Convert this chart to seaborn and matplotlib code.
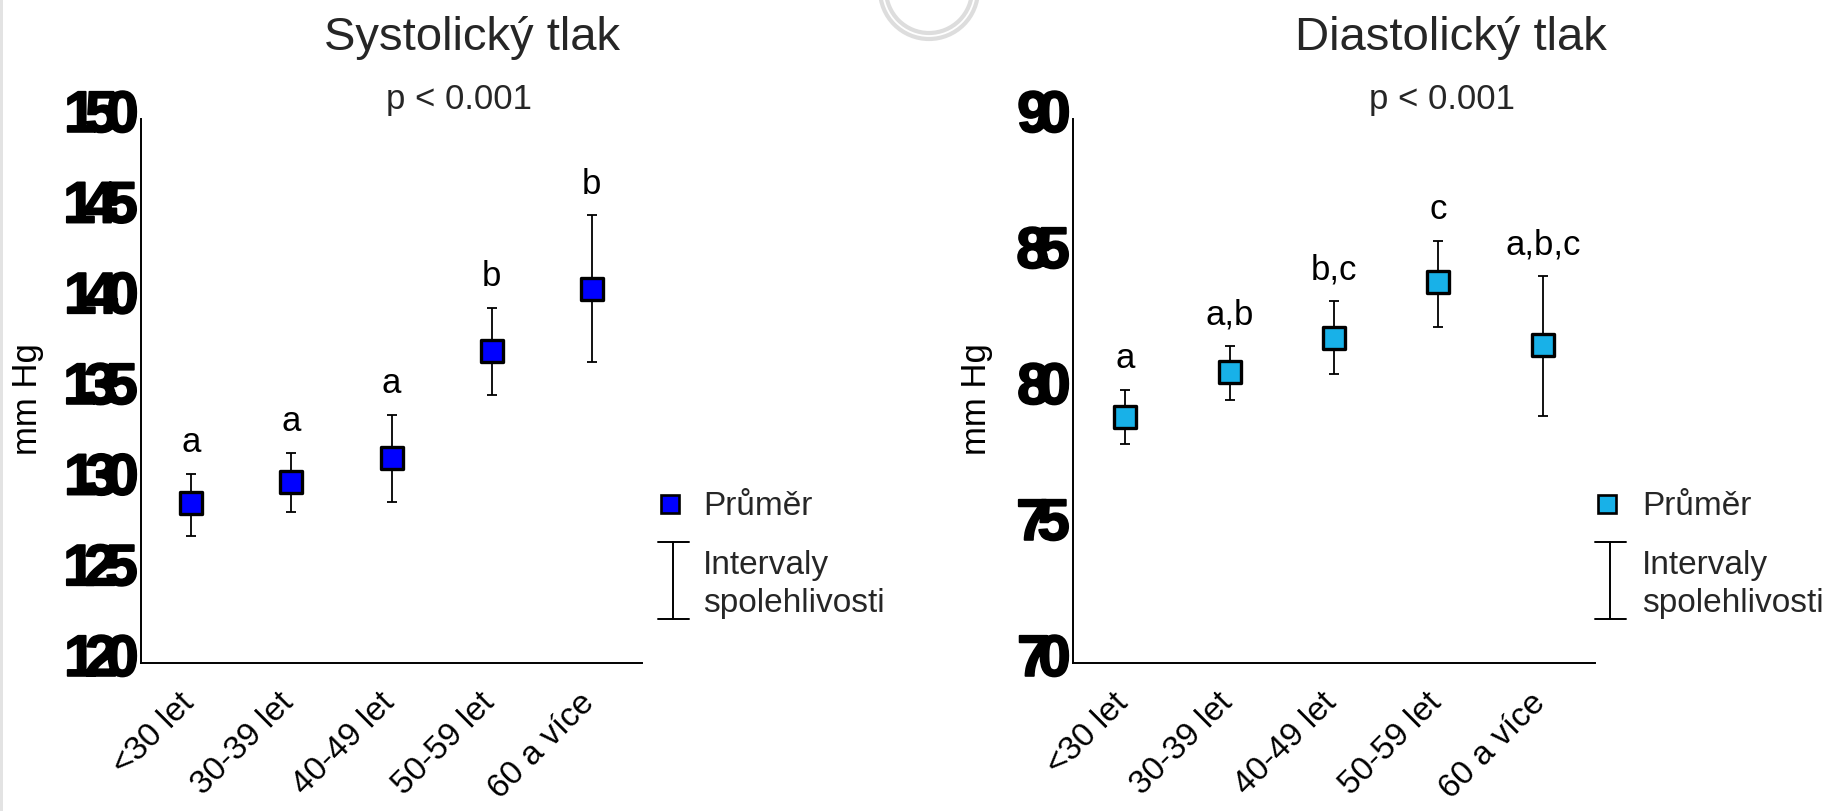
import numpy as np
import matplotlib
matplotlib.use('Agg')
import matplotlib.pyplot as plt
import matplotlib.patheffects as pe
from matplotlib.lines import Line2D
from matplotlib.patches import Circle, Rectangle
from matplotlib.transforms import ScaledTranslation
import seaborn as sns

categories = ['<30 let', '30-39 let', '40-49 let', '50-59 let', '60 a více']

sys_mean = [128.8, 130.0, 131.3, 137.2, 140.6]
sys_low = [127.0, 128.3, 128.9, 134.8, 136.6]
sys_high = [130.45, 131.6, 133.7, 139.6, 144.7]
sys_letters = ['a', 'a', 'a', 'b', 'b']

dia_mean = [79.04, 80.71, 81.95, 83.99, 81.68]
dia_low = [78.05, 79.67, 80.64, 82.35, 79.08]
dia_high = [80.05, 81.67, 83.32, 85.53, 84.23]
dia_letters = ['a', 'a,b', 'b,c', 'c', 'a,b,c']

sys_ticks = [120, 125, 130, 135, 140, 145, 150]
dia_ticks = [70, 75, 80, 85, 90]

sns.set_theme(style='white')
plt.rcParams['font.family'] = ['Liberation Sans', 'DejaVu Sans']
# tick numbers are heavy and squeezed together -> bold mathtext with negative spacing
plt.rcParams['mathtext.fontset'] = 'custom'
plt.rcParams['mathtext.bf'] = 'Liberation Sans:bold'
plt.rcParams['mathtext.rm'] = 'Liberation Sans:bold'
plt.rcParams['mathtext.default'] = 'bf'

W, H = 1835, 812
fig = plt.figure(figsize=(W / 100, H / 100), dpi=100)
fig.patch.set_facecolor('white')


def fx(px):
    return px / W


def fy(py):
    return 1 - py / H


def tight_num(v):
    return '$' + r'\hspace{-0.2}'.join(str(v)) + '$'


def draw_panel(ax, mean, low, high, letters, color, ticks, ylab_x):
    mean = np.array(mean)
    low = np.array(low)
    high = np.array(high)
    xpos = np.arange(len(categories))

    ax.errorbar(xpos, mean, yerr=[mean - low, high - mean], fmt='none',
                ecolor='black', elinewidth=1.3, capsize=3.6, capthick=1.3, zorder=2)
    sns.scatterplot(x=xpos, y=mean, marker='s', s=15.6 ** 2, color=color,
                    edgecolor='black', linewidth=2.4, zorder=3, legend=False, ax=ax)

    for i, txt in enumerate(letters):
        ax.annotate(txt, xy=(xpos[i], high[i]), xytext=(0, 16), textcoords='offset points',
                    ha='center', va='baseline', fontsize=25, color='black')

    ax.set_xlim(-0.5, len(categories) - 0.5)
    ax.set_ylim(ticks[0], ticks[-1])
    ax.tick_params(axis='y', direction='in', length=3.6, width=1.2, pad=2, colors='black')
    ax.tick_params(axis='x', direction='in', length=3.6, width=1.2, pad=17, colors='black')
    ax.set_xticks(xpos)
    ax.set_xticklabels(categories, rotation=45, ha='right', va='top',
                       rotation_mode='anchor', fontsize=24)
    ax.set_yticks(ticks)
    ax.set_yticklabels([tight_num(t) for t in ticks], fontsize=42, va='baseline')
    for lab in ax.get_yticklabels():
        lab.set_transform(lab.get_transform() + ScaledTranslation(0, -0.13, fig.dpi_scale_trans))
        lab.set_path_effects([pe.withStroke(linewidth=1.3, foreground='black')])
    for lab in ax.get_xticklabels():
        lab.set_transform(lab.get_transform() + ScaledTranslation(-0.13, 0, fig.dpi_scale_trans))

    sns.despine(ax=ax)
    for side in ['left', 'bottom']:
        ax.spines[side].set_color('black')
        ax.spines[side].set_linewidth(1.4)
    ax.set_facecolor('white')
    ax.grid(False)

    ax.set_xlabel('')
    ax.set_ylabel('mm Hg', fontsize=25, color='black')
    ax.yaxis.set_label_coords(ylab_x, 0.487)


def draw_legend(marker_x, bar_x, text_x, color):
    fig.add_artist(Line2D([fx(marker_x)], [fy(505)], marker='s', markersize=12.5,
                          markerfacecolor=color, markeredgecolor='black',
                          markeredgewidth=1.9, linestyle='none', transform=fig.transFigure))
    fig.text(fx(text_x), fy(515), 'Průměr', fontsize=24, ha='left', va='baseline')
    fig.add_artist(Line2D([fx(bar_x), fx(bar_x)], [fy(543), fy(620)], color='black',
                          lw=1.4, transform=fig.transFigure))
    for yy in (543, 620):
        fig.add_artist(Line2D([fx(bar_x - 15.5), fx(bar_x + 15.5)], [fy(yy), fy(yy)],
                              color='black', lw=1.4, transform=fig.transFigure))
    fig.text(fx(text_x), fy(574), 'Intervaly', fontsize=24, ha='left', va='baseline')
    fig.text(fx(text_x), fy(612), 'spolehlivosti', fontsize=24, ha='left', va='baseline')


ax1 = fig.add_axes([fx(141), fy(664), 501 / W, 544 / H])
ax2 = fig.add_axes([fx(1073), fy(664), 522 / W, 544 / H])

draw_panel(ax1, sys_mean, sys_low, sys_high, sys_letters, '#0000FF', sys_ticks, -0.194)
draw_panel(ax2, dia_mean, dia_low, dia_high, dia_letters, '#18B1E8', dia_ticks, -0.153)

fig.text(fx(471.5), fy(50), 'Systolický tlak', fontsize=34, ha='center', va='baseline')
fig.text(fx(1451), fy(50), 'Diastolický tlak', fontsize=34, ha='center', va='baseline')
fig.text(fx(459.5), fy(108.5), 'p < 0.001', fontsize=25, ha='center', va='baseline')
fig.text(fx(1442), fy(108.5), 'p < 0.001', fontsize=25, ha='center', va='baseline')

draw_legend(670, 673, 703, '#0000FF')
draw_legend(1607, 1610, 1642, '#18B1E8')

# slide decoration: grey rings at the top and the left edge strip
for r in (0.49, 0.43):
    fig.add_artist(Circle((9.29, 8.21), r, transform=fig.dpi_scale_trans, fill=False,
                          ec='#DDDDDD', lw=3))
fig.add_artist(Rectangle((0, 0), 3 / W, 1, transform=fig.transFigure, color='#E3E3E3', lw=0))

fig.savefig('out.png', dpi=100)
